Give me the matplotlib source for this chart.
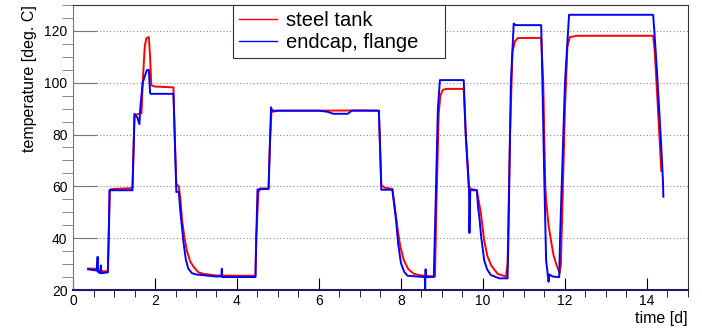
import matplotlib
matplotlib.use("Agg")
import matplotlib.pyplot as plt
from matplotlib.ticker import MultipleLocator

plt.rcParams['font.family'] = ['Liberation Sans', 'DejaVu Sans']

# steel tank (red)
tank_t = [0.37, 0.55, 0.62, 0.85, 0.87, 0.90, 1.0, 1.45, 1.47, 1.50, 1.67, 1.70, 1.75, 1.79, 1.85, 1.88, 1.91,
          2.0, 2.45, 2.48, 2.52, 2.58, 2.62, 2.66, 2.72, 2.78, 2.86, 2.94, 3.06, 3.19, 3.5, 4.0, 4.45,
          4.47, 4.52, 4.56, 4.77, 4.80, 4.84, 5.0, 6.0, 7.0, 7.46, 7.49, 7.52, 7.6, 7.79, 7.85, 7.91,
          7.98, 8.07, 8.18, 8.32, 8.5, 8.83, 8.86, 8.92, 8.96, 9.02, 9.1, 9.53, 9.58, 9.66, 9.70, 9.85,
          9.90, 9.95, 10.03, 10.11, 10.2, 10.36, 10.56, 10.60, 10.66, 10.72, 10.78, 10.85, 11.42, 11.47,
          11.52, 11.54, 11.60, 11.66, 11.72, 11.78, 11.87, 11.9, 12.0, 12.06, 12.12, 12.3, 14.15, 14.19,
          14.25, 14.35]
tank_T = [28.3, 28.2, 27.3, 27.2, 40, 58.8, 59.0, 59.3, 70, 87.5, 88.2, 100, 114, 117.2, 117.6, 110, 99.0,
          98.5, 98.2, 80, 61, 60, 55, 47, 40, 35, 31, 29, 26.8, 26.2, 25.6, 25.5, 25.5,
          40, 57.5, 59.2, 59.2, 75, 88.7, 89.2, 89.2, 89.3, 89.2, 75, 60.5, 59.5, 59, 52, 44.4,
          37, 31.5, 28, 26.2, 25.6, 25.2, 50, 88, 95, 97.2, 97.6, 97.6, 80, 60, 59, 58.5,
          54, 49.5, 39, 33, 29.5, 26.2, 25.2, 30, 80, 112, 116, 117.2, 117.3, 100,
          60, 54.6, 45, 39, 33.5, 30.3, 26.5, 30, 90, 114, 117.6, 118.1, 118.1, 112,
          95, 66]

# endcap, flange (blue)
cap_t = [0.37, 0.58, 0.60, 0.61, 0.66, 0.68, 0.69, 0.85, 0.87, 0.89, 1.45, 1.47, 1.50, 1.57, 1.62, 1.64,
         1.70, 1.80, 1.85, 1.88, 1.90, 2.45, 2.48, 2.52, 2.58, 2.62, 2.66, 2.69, 2.75, 2.81, 2.9, 3.0,
         3.5, 3.62, 3.63, 3.64, 4.45, 4.47, 4.5, 4.77, 4.80, 4.83, 4.86, 6.0, 6.2, 6.35, 6.7, 6.8,
         7.46, 7.49, 7.52, 7.79, 7.84, 7.88, 7.93, 8.0, 8.08, 8.16, 8.58, 8.59, 8.60, 8.61, 8.80,
         8.84, 8.90, 8.95, 9.53, 9.58, 9.66, 9.67, 9.69, 9.85, 9.88, 9.91, 9.96, 10.03, 10.1, 10.19,
         10.4, 10.6, 10.62, 10.68, 10.75, 10.8, 11.42, 11.45, 11.49, 11.54, 11.58, 11.60, 11.62, 11.7,
         11.86, 11.88, 12.0, 12.1, 14.15, 14.18, 14.25, 14.35, 14.39, 14.40]
cap_T = [28, 27.5, 32.8, 27, 26.5, 29.5, 26.5, 26.8, 40, 58.5, 58.5, 70, 88, 86.5, 84, 90,
         100, 104.8, 105, 96, 95.7, 95.7, 80, 57.8, 58.0, 50, 44, 39, 32, 28.3, 26.5, 26,
         25.2, 25.3, 28.2, 25, 25, 40, 58.8, 59, 75, 90.5, 89.2, 89.2, 88.8, 88, 88, 89.2,
         89.2, 75, 58.7, 58.7, 52, 47, 38, 30.3, 27, 25.5, 25, 20.5, 28, 25, 25,
         50, 90, 101, 101, 80, 58, 42, 58.5, 58.5, 52, 48.2, 40, 31.5, 28, 25.8,
         24.5, 24.5, 40, 100, 122.8, 122.2, 122.2, 100, 67, 31.5, 26, 23.2, 26, 25.2,
         25, 40, 100, 126.2, 126.2, 120, 103, 75, 62, 56]

fig = plt.figure(figsize=(7.02, 3.29), dpi=100)
ax = fig.add_axes([0.104, 0.1185, 0.876, 0.8665])

ax.plot(tank_t, tank_T, color='#ff0000', lw=1.4, label='steel tank')
ax.plot(cap_t, cap_T, color='#0000ff', lw=1.4, label='endcap, flange')

ax.set_xlim(0, 15)
ax.set_ylim(20, 130)
ax.xaxis.set_major_locator(MultipleLocator(2))
ax.xaxis.set_minor_locator(MultipleLocator(0.5))
ax.yaxis.set_major_locator(MultipleLocator(20))
ax.yaxis.set_minor_locator(MultipleLocator(5))

ax.tick_params(axis='both', direction='in', labelsize=10, top=False, right=False)
ax.tick_params(axis='y', which='major', length=17, color='#777777', pad=4)
ax.tick_params(axis='y', which='minor', length=8, color='#777777')
ax.tick_params(axis='x', which='major', length=9, pad=3)
ax.tick_params(axis='x', which='minor', length=5)

ax.grid(axis='y', which='major', color='#888888', linestyle=(0, (1, 2)), lw=0.8)
ax.set_axisbelow(True)

for s in ['top', 'right']:
    ax.spines[s].set_color('#333333')
    ax.spines[s].set_linewidth(0.8)
ax.spines['left'].set_color('#777777')
ax.spines['bottom'].set_color('#1a1a6e')
ax.spines['bottom'].set_linewidth(1.5)

ax.set_xlabel('time [d]', fontsize=11.5, loc='right', labelpad=2)
ax.set_ylabel('temperature [deg. C]', fontsize=11.5, loc='top', labelpad=5)

leg = ax.legend(loc='upper left', bbox_to_anchor=(0.26, 0.5, 0.345, 0.5), mode='expand',
                borderaxespad=0, fontsize=14.5,
                fancybox=False, edgecolor='#333333', framealpha=1, handlelength=1.9,
                handletextpad=0.45, borderpad=0.3, labelspacing=0.15)
leg.get_frame().set_linewidth(0.8)
for h in leg.get_lines():
    h.set_linewidth(1.0)

fig.savefig('out.png', dpi=100)
